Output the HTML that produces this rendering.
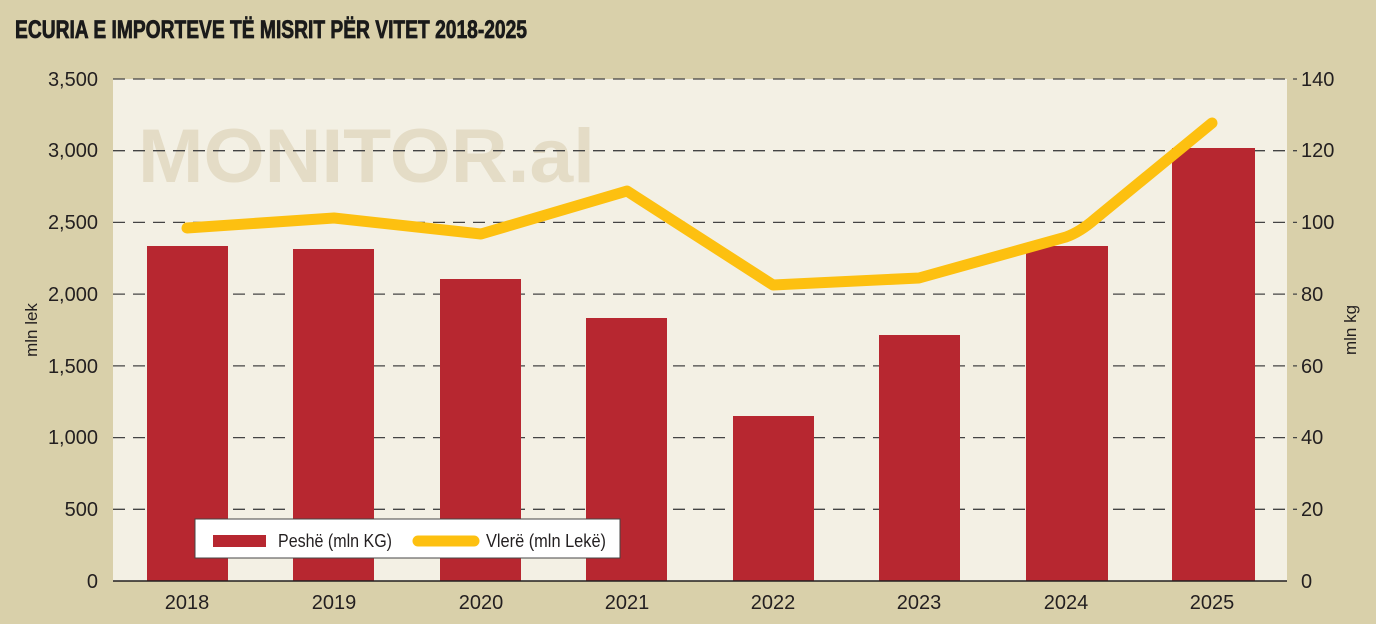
<!DOCTYPE html>
<html><head><meta charset="utf-8"><style>
html,body{margin:0;padding:0;background:#d9d0aa;}
svg{display:block;}
text{font-family:"Liberation Sans",sans-serif;fill:#231f20;}
</style></head><body>
<svg width="1376" height="624" xmlns="http://www.w3.org/2000/svg">
<rect width="1376" height="624" fill="#d9d0aa"/>
<text x="15" y="38" font-size="25" font-weight="bold" textLength="512" lengthAdjust="spacingAndGlyphs" style="fill:#1a1a1a;stroke:#1a1a1a;stroke-width:0.8">ECURIA E IMPORTEVE TË MISRIT PËR VITET 2018-2025</text>
<rect x="113" y="79" width="1174" height="502" fill="#f3f0e4"/>
<text x="138" y="182" font-size="76" font-weight="bold" textLength="457" lengthAdjust="spacingAndGlyphs" style="fill:#e4dcc6">MONITOR.al</text>
<g stroke="#444" stroke-width="1.3" stroke-dasharray="12,8">
<line x1="113" y1="79" x2="1297" y2="79"/>
<line x1="113" y1="150.7" x2="1297" y2="150.7"/>
<line x1="113" y1="222.4" x2="1297" y2="222.4"/>
<line x1="113" y1="294.1" x2="1297" y2="294.1"/>
<line x1="113" y1="365.9" x2="1297" y2="365.9"/>
<line x1="113" y1="437.6" x2="1297" y2="437.6"/>
<line x1="113" y1="509.3" x2="1297" y2="509.3"/>
</g>
<g fill="#b72730">
<rect x="147" y="246" width="81" height="335"/>
<rect x="293" y="249" width="81" height="332"/>
<rect x="440" y="279" width="81" height="302"/>
<rect x="586" y="318" width="81" height="263"/>
<rect x="733" y="416" width="81" height="165"/>
<rect x="879" y="335" width="81" height="246"/>
<rect x="1026" y="246" width="82" height="335"/>
<rect x="1172" y="148" width="83" height="433"/>
</g>
<line x1="113" y1="581" x2="1287" y2="581" stroke="#231f20" stroke-width="1.5"/>
<path d="M187,228 L334,218 L481,234 L627,191 L773,285 L919,278 L1066,237 Q1080,232 1095,219 L1212,123" fill="none" stroke="#fdc010" stroke-width="11" stroke-linecap="round" stroke-linejoin="round"/>
<g font-size="20" text-anchor="end">
<text x="98" y="86">3,500</text><text x="98" y="157">3,000</text><text x="98" y="229">2,500</text>
<text x="98" y="301">2,000</text><text x="98" y="373">1,500</text><text x="98" y="444">1,000</text>
<text x="98" y="516">500</text><text x="98" y="588">0</text>
</g>
<g font-size="20">
<text x="1301" y="86">140</text><text x="1301" y="157">120</text><text x="1301" y="229">100</text>
<text x="1301" y="301">80</text><text x="1301" y="373">60</text><text x="1301" y="444">40</text>
<text x="1301" y="516">20</text><text x="1301" y="588">0</text>
</g>
<g font-size="20" text-anchor="middle">
<text x="187" y="609">2018</text><text x="334" y="609">2019</text><text x="481" y="609">2020</text>
<text x="627" y="609">2021</text><text x="773" y="609">2022</text><text x="919" y="609">2023</text>
<text x="1066" y="609">2024</text><text x="1212" y="609">2025</text>
</g>
<text font-size="17" text-anchor="middle" transform="translate(37,330) rotate(-90)">mln lek</text>
<text font-size="17" text-anchor="middle" transform="translate(1356,330) rotate(-90)">mln kg</text>
<rect x="195" y="519" width="425" height="39" fill="#fff" stroke="#444" stroke-width="1"/>
<rect x="213" y="535" width="53" height="12" fill="#b72730"/>
<text x="278" y="547" font-size="18" textLength="114" lengthAdjust="spacingAndGlyphs">Peshë (mln KG)</text>
<line x1="418" y1="541" x2="474" y2="541" stroke="#fdc010" stroke-width="11" stroke-linecap="round"/>
<text x="486" y="547" font-size="18" textLength="120" lengthAdjust="spacingAndGlyphs">Vlerë (mln Lekë)</text>
</svg>
</body></html>
